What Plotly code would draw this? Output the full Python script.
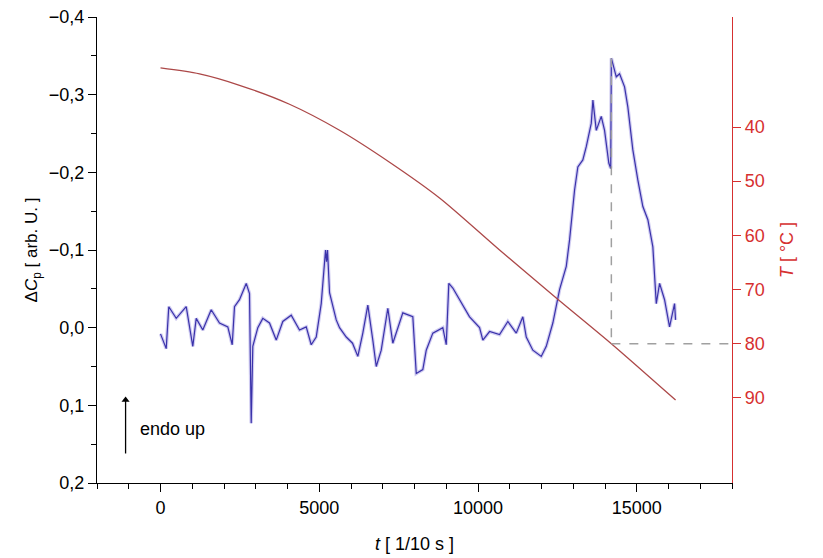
import plotly.graph_objects as go

# Heat-capacity difference trace (time in 1/10 s, ΔCp in arbitrary units)
t_cp = [0, 180, 261, 495, 810, 1017, 1125, 1332, 1597, 1858, 2120, 2259, 2331,
        2488, 2700, 2803, 2857, 2907, 3065, 3222, 3433, 3645, 3852, 4117, 4378,
        4590, 4747, 4905, 5062, 5135, 5198, 5229, 5260, 5324, 5535, 5639, 5850,
        6048, 6215, 6372, 6530, 6687, 6795, 6952, 7160, 7317, 7632, 7947, 8055,
        8262, 8370, 8577, 8892, 9000, 9081, 9207, 9419, 9734, 10049, 10152,
        10364, 10679, 10940, 11205, 11412, 11520, 11727, 11992, 12150, 12357,
        12569, 12780, 12884, 13041, 13145, 13302, 13410, 13567, 13619, 13725,
        13882, 13986, 14120, 14180, 14200, 14355, 14459, 14616, 14720, 14877,
        15035, 15192, 15350, 15507, 15615, 15719, 15876, 16033, 16191, 16222]
dcp = [0.008, 0.027, -0.027, -0.012, -0.027, 0.024, -0.012, 0.003, -0.023,
       -0.006, -0.001, 0.022, -0.027, -0.036, -0.057, -0.044, 0.123, 0.024,
       0.000, -0.012, -0.006, 0.016, -0.008, -0.016, 0.003, -0.001, 0.022,
       0.012, -0.031, -0.074, -0.100, -0.085, -0.100, -0.045, -0.010, 0.000,
       0.012, 0.020, 0.037, 0.007, -0.029, 0.016, 0.050, 0.029, -0.025, 0.020,
       -0.019, -0.014, 0.059, 0.054, 0.029, 0.007, 0.000, 0.022, -0.057,
       -0.051, -0.036, -0.014, 0.000, 0.016, 0.005, 0.009, -0.008, 0.007,
       -0.014, 0.012, 0.029, 0.037, 0.024, -0.006, -0.049, -0.079, -0.113,
       -0.177, -0.207, -0.216, -0.233, -0.263, -0.293, -0.254, -0.272, -0.254,
       -0.212, -0.205, -0.347, -0.323, -0.327, -0.310, -0.284, -0.229, -0.190,
       -0.156, -0.139, -0.104, -0.031, -0.057, -0.036, -0.001, -0.031, -0.010]

# Sample temperature during the scan
t_temp = [0, 1229, 2489, 4064, 5639, 7214, 8789, 10679, 12474, 14200, 16223]
temp = [29.1, 30.2, 32.3, 35.8, 40.6, 46.5, 53.1, 62.7, 71.6, 80.0, 90.4]

# Transition marker: peak time, peak ΔCp and temperature at the peak
t_peak = 14200
dcp_peak = -0.347
T_peak = 80

x_range = [-2000, 18000]
y_range = [0.2, -0.4]
T_range = [105.7, 19.7]
T_ticks = [40, 50, 60, 70, 80, 90]

# "endo up" arrow: time position and ΔCp span
arrow_t = -1100
arrow_span = [0.162, 0.093]

font = "Liberation Sans, Arial, sans-serif"
blue = "rgb(58,50,170)"
halo = "rgba(120,110,215,0.35)"
brown = "rgb(172,72,72)"
red = "rgb(214,48,48)"
grey = "rgb(160,160,160)"

# y-axis value at the same height as T_peak on the temperature axis
frac = (T_peak - T_range[1]) / (T_range[0] - T_range[1])
dcp_at_T = y_range[1] + frac * (y_range[0] - y_range[1])

fig = go.Figure()
fig.add_trace(go.Scatter(x=t_cp, y=dcp, mode="lines",
                         line=dict(color=halo, width=3.5), yaxis="y"))
fig.add_trace(go.Scatter(x=t_cp, y=dcp, mode="lines",
                         line=dict(color=blue, width=1.2), yaxis="y"))
fig.add_trace(go.Scatter(x=[t_peak, t_peak], y=[dcp_peak, dcp_at_T], mode="lines",
                         line=dict(color=grey, width=1.5, dash="dash"), yaxis="y"))
fig.add_trace(go.Scatter(x=t_temp, y=temp, mode="lines", line_shape="spline",
                         line=dict(color=brown, width=1.3, smoothing=0.8),
                         yaxis="y2"))
fig.add_trace(go.Scatter(x=[t_peak, x_range[1]], y=[T_peak, T_peak], mode="lines",
                         line=dict(color=grey, width=1.5, dash="dash"), yaxis="y2"))

# endo-up arrow: shaft plus head
fig.add_trace(go.Scatter(x=[arrow_t, arrow_t], y=arrow_span, mode="lines",
                         line=dict(color="black", width=1.3), yaxis="y"))
fig.add_trace(go.Scatter(x=[arrow_t], y=[arrow_span[1]], mode="markers",
                         marker=dict(symbol="triangle-up", size=7, color="black"),
                         yaxis="y"))
fig.add_annotation(x=-700, y=0.13, xref="x", yref="y", text="endo up",
                   showarrow=False, xanchor="left", yanchor="middle",
                   font=dict(size=18, color="black", family=font))

fig.update_layout(
    width=823, height=558,
    margin=dict(l=97, r=91, t=17, b=75),
    paper_bgcolor="white", plot_bgcolor="white",
    showlegend=False,
    separators=",.",
    font=dict(family=font, size=18, color="black"),
    xaxis=dict(range=x_range, showgrid=False, zeroline=False, automargin=False,
               showline=True, linecolor="black", linewidth=1.3,
               ticks="outside", ticklen=8, tickwidth=1.3, tickcolor="black",
               tickvals=[0, 5000, 10000, 15000], tickformat="d",
               minor=dict(dtick=1000, ticks="outside", ticklen=5,
                          tickwidth=1.3, tickcolor="black"),
               title=dict(text="<i>t</i> [ 1/10 s ]", font=dict(size=18),
                          standoff=20)),
    yaxis=dict(range=y_range, showgrid=False, zeroline=False, automargin=False,
               showline=True, linecolor="black", linewidth=1.3,
               ticks="outside", ticklen=8, tickwidth=1.3, tickcolor="black",
               dtick=0.1, tickformat=".1f",
               minor=dict(dtick=0.05, ticks="outside", ticklen=5,
                          tickwidth=1.3, tickcolor="black"),
               title=dict(text="Δ<i>C</i><sub>p</sub> [ arb. U. ]",
                          font=dict(size=17), standoff=6)),
    yaxis2=dict(range=T_range, overlaying="y", side="right", automargin=False,
                anchor="x", showgrid=False, zeroline=False,
                showline=True, linecolor=red, linewidth=1.3,
                ticks="outside", ticklen=8, tickwidth=1.3, tickcolor=red,
                tickvals=T_ticks, tickfont=dict(color=red, size=18),
                title=dict(text="<i>T</i> [ °C ]", font=dict(color=red, size=18),
                           standoff=16)),
)

fig.write_html("out.html")
